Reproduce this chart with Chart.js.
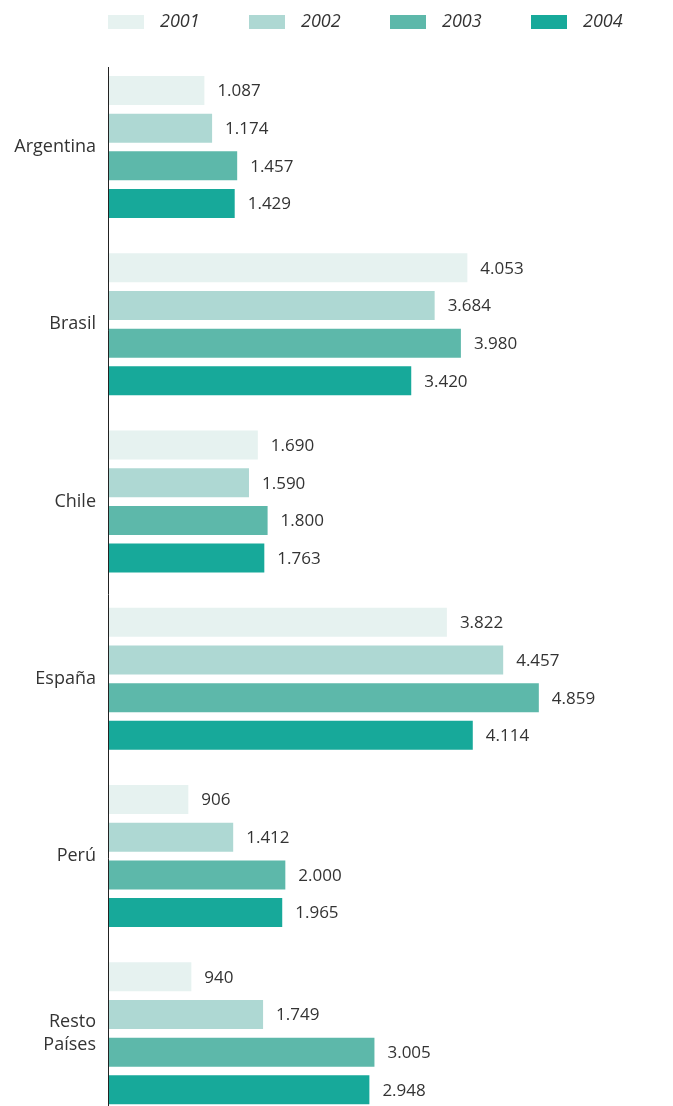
<!DOCTYPE html>
<html>
<head>
<meta charset="utf-8">
<script src="https://cdn.jsdelivr.net/npm/chart.js@4/dist/chart.umd.min.js"></script>
<style>
  html, body { margin: 0; padding: 0; background: #ffffff; overflow: hidden; }
  canvas { display: block; }
</style>
</head>
<body>
<canvas id="c" width="673" height="1122" style="width:673px;height:1122px"></canvas>
<script>
const categories = ['Argentina', 'Brasil', 'Chile', 'España', 'Perú', ['Resto', 'Países']];
const seriesNames = ['2001', '2002', '2003', '2004'];
const values2001 = [1087, 4053, 1690, 3822, 906, 940];
const values2002 = [1174, 3684, 1590, 4457, 1412, 1749];
const values2003 = [1457, 3980, 1800, 4859, 2000, 3005];
const values2004 = [1429, 3420, 1763, 4114, 1965, 2948];
const seriesColors = ['#E6F2F0', '#AED8D3', '#5DB8AA', '#17A99A'];

const FONT = '"Open Sans", "DejaVu Sans", sans-serif';
const TEXT = '#333333';

function fmt(v) {
  return String(v).replace(/\B(?=(\d{3})+(?!\d))/g, '.');
}

const valueLabels = {
  id: 'valueLabels',
  afterDatasetsDraw(chart) {
    const ctx = chart.ctx;
    ctx.save();
    ctx.font = '17px ' + FONT;
    ctx.fillStyle = TEXT;
    ctx.textAlign = 'left';
    ctx.textBaseline = 'middle';
    chart.data.datasets.forEach((ds, di) => {
      const meta = chart.getDatasetMeta(di);
      meta.data.forEach((bar, i) => {
        ctx.fillText(fmt(ds.data[i]), bar.x + 13, bar.y + 1);
      });
    });
    ctx.restore();
  }
};

// Vertical axis line (starts a little below the plot top, as in the reference)
const axisLine = {
  id: 'axisLine',
  afterDatasetsDraw(chart) {
    const ctx = chart.ctx;
    const x = Math.round(chart.chartArea.left) + 0.5;
    ctx.save();
    ctx.strokeStyle = '#222222';
    ctx.lineWidth = 1;
    ctx.beginPath();
    ctx.moveTo(x, 67);
    ctx.lineTo(x, chart.chartArea.bottom);
    ctx.stroke();
    ctx.restore();
  }
};

// Legend drawn from the datasets' own labels and colours
const topLegend = {
  id: 'topLegend',
  afterDraw(chart) {
    const ctx = chart.ctx;
    ctx.save();
    ctx.font = 'italic 18px ' + FONT;
    ctx.textAlign = 'left';
    ctx.textBaseline = 'middle';
    chart.data.datasets.forEach((ds, i) => {
      const x = chart.chartArea.left + i * 141;
      ctx.fillStyle = ds.backgroundColor;
      ctx.fillRect(x, 15, 36, 14);
      ctx.fillStyle = TEXT;
      ctx.fillText(ds.label, x + 52, 22);
    });
    ctx.restore();
  }
};

const allSeries = [values2001, values2002, values2003, values2004];

new Chart(document.getElementById('c'), {
  type: 'bar',
  data: {
    labels: categories,
    datasets: allSeries.map((vals, i) => ({
      label: seriesNames[i],
      data: vals,
      backgroundColor: seriesColors[i],
      borderWidth: 0,
      categoryPercentage: 0.85,
      barPercentage: 0.77
    }))
  },
  options: {
    indexAxis: 'y',
    responsive: false,
    animation: false,
    layout: { padding: { left: 0, right: 33, top: 58.4, bottom: 0 } },
    plugins: {
      tooltip: { enabled: false },
      legend: { display: false }
    },
    scales: {
      x: {
        display: false,
        min: 0,
        max: 6000
      },
      y: {
        afterFit(scale) {
          scale.width = 108;
          scale.paddingTop = 0;
          scale.paddingBottom = 0;
        },
        grid: { display: false, drawTicks: false },
        border: { display: false },
        ticks: {
          padding: 12,
          color: TEXT,
          font: { family: FONT, size: 18, lineHeight: 1.3 }
        }
      }
    }
  },
  plugins: [valueLabels, axisLine, topLegend]
});
</script>
</body>
</html>
